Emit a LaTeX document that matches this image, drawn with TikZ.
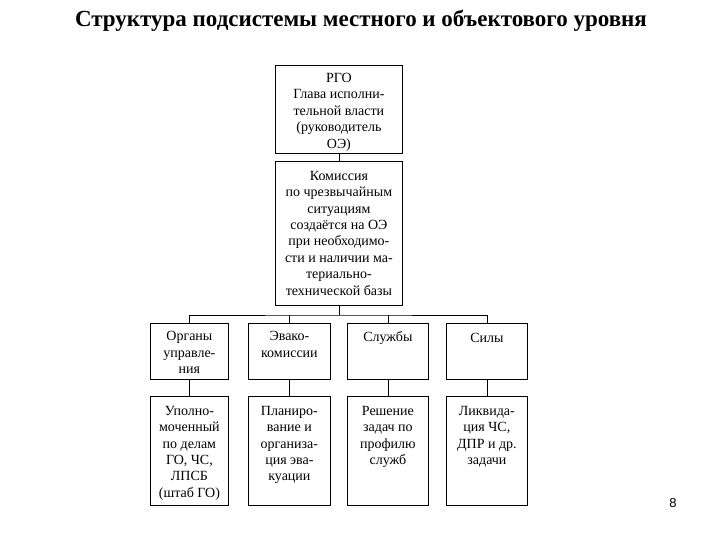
\documentclass[tikz,border=0pt]{standalone}
\usepackage{fontspec}
\setmainfont{Liberation Serif}
\newfontfamily\numfont{Liberation Sans}
\usetikzlibrary{positioning}

\tikzset{
  box/.style={draw, line width=0.8pt, inner sep=0pt, anchor=north west},
  boxtext/.style={align=center, inner sep=0pt, font=\fontsize{14}{16.4}\selectfont},
  link/.style={line width=0.8pt}
}

\begin{document}
\begin{tikzpicture}[x=1pt,y=-1pt]
\useasboundingbox (0,0) rectangle (720,540);

% Title
\node (title) at (361,21) {\fontsize{23}{27}\selectfont\bfseries Структура подсистемы местного и объектового уровня};

% Head and commission
\node[box, minimum width=127pt, minimum height=88pt] (rgo) at (275,65) {};
\node[boxtext, below=8pt of rgo.north] (rgotext) {РГО\\Глава исполни-\\тельной власти\\(руководитель\\ОЭ)};
\node[box, minimum width=127pt, minimum height=144pt] (kchs) at (275,161) {};
\node[boxtext, below=10pt of kchs.north] (kchstext) {Комиссия\\по чрезвычайным\\ситуациям\\создаётся на ОЭ\\при необходимо-\\сти и наличии ма-\\териально-\\технической базы};

% Second row
\node[box, minimum width=78pt, minimum height=56pt] (org) at (150,323) {};
\node[box, minimum width=82pt, minimum height=56pt] (evak) at (248,323) {};
\node[box, minimum width=81pt, minimum height=56pt] (sluzh) at (347,323) {};
\node[box, minimum width=81pt, minimum height=56pt] (sily) at (446,323) {};
\node[boxtext, below=8.5pt of org.north] (orgtext) {Органы\\управле-\\ния};
\node[boxtext, below=8.5pt of evak.north] (evaktext) {Эвако-\\комиссии};
\node[boxtext, below=8pt of sluzh.north] (sluzhtext) {Службы};
\node[boxtext, below=10pt of sily.north] (silytext) {Силы};

% Third row
\node[box, minimum width=78pt, minimum height=109pt] (upoln) at (150,396) {};
\node[box, minimum width=82pt, minimum height=109pt] (plan) at (248,396) {};
\node[box, minimum width=81pt, minimum height=109pt] (resh) at (347,396) {};
\node[box, minimum width=81pt, minimum height=109pt] (likv) at (446,396) {};
\node[boxtext, below=10pt of upoln.north] (upolntext) {Уполно-\\моченный\\по делам\\ГО, ЧС,\\ЛПСБ\\(штаб ГО)};
\node[boxtext, below=10pt of plan.north] (plantext) {Планиро-\\вание и\\организа-\\ция эва-\\куации};
\node[boxtext, below=10pt of resh.north] (reshtext) {Решение\\задач по\\профилю\\служб};
\node[boxtext, below=10pt of likv.north] (likvtext) {Ликвида-\\ция ЧС,\\ДПР и др.\\задачи};

% Connectors
\coordinate (bus) at (kchs.south |- 0,315);
\draw[link] (rgo) -- (kchs);
\draw[link] (kchs) -- (bus);
\draw[link] (org.north) |- (bus) -| (sily.north);
\foreach \top in {evak,sluzh}
    \draw[link] (\top.north) -- (\top.north |- bus);
\draw[link] (org) -- (upoln);
\draw[link] (evak) -- (plan);
\draw[link] (sluzh) -- (resh);
\draw[link] (sily) -- (likv);

\node[font=\numfont\fontsize{13}{15}\selectfont] (page) at (673,503) {8};
\end{tikzpicture}
\end{document}
